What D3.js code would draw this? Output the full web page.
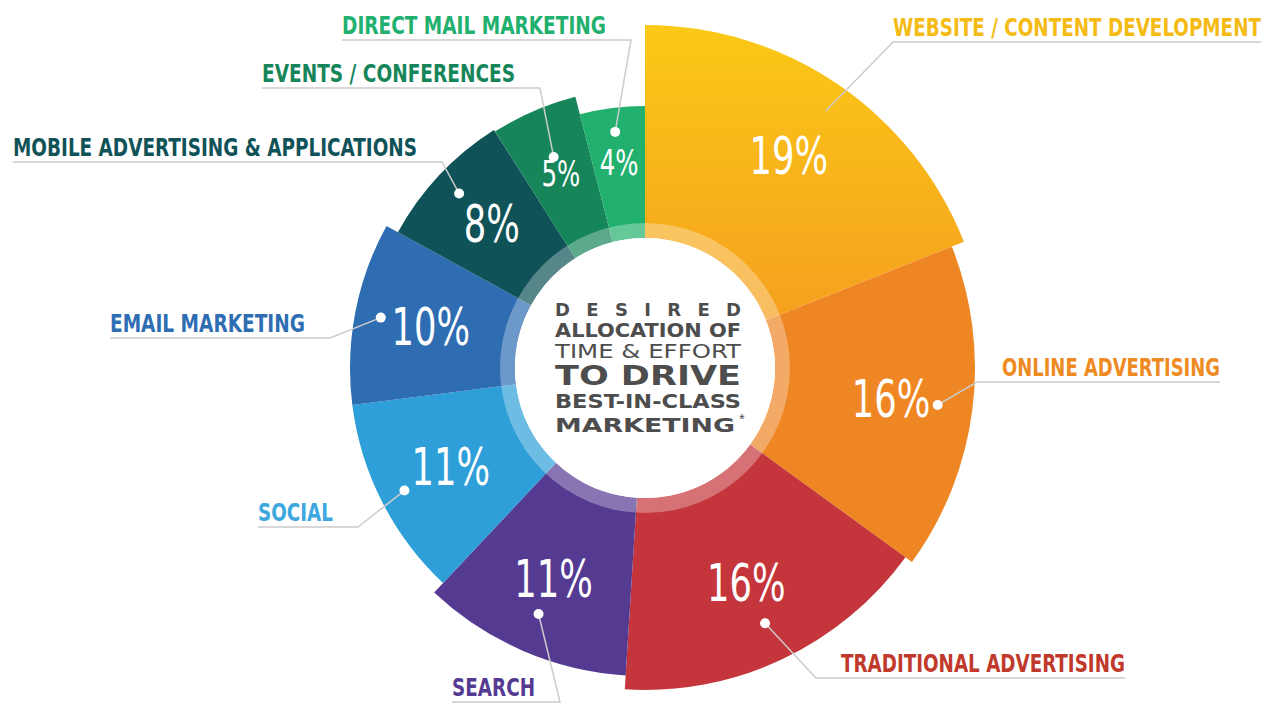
<!DOCTYPE html>
<html><head><meta charset="utf-8">
<script src="https://cdn.jsdelivr.net/npm/d3@7"></script>
<style>body{margin:0;background:#fff}svg{display:block}</style>
</head><body><svg id="c" width="1280" height="720"></svg>
<script>
const categories=["WEBSITE / CONTENT DEVELOPMENT","ONLINE ADVERTISING","TRADITIONAL ADVERTISING","SEARCH","SOCIAL","EMAIL MARKETING","MOBILE ADVERTISING & APPLICATIONS","EVENTS / CONFERENCES","DIRECT MAIL MARKETING"];
const values=[19,16,16,11,11,10,8,5,4];
const outerR=[343,330,322,308,295,295,282,280,262];
const colors=["#f8b61c","#ee8624","#c4363b","#553a92","#2e9fd8","#2f6db3","#0f5258","#16855a","#22b06e"];
const labelColors=["#f5bb14","#ee8a22","#c0392b","#553a92","#3da7de","#2f6db3","#0f5258","#16855a","#22b06e"];
const labelPos=[[893,36,368],[1002,376,218],[841,672,284],[452,696,83],[258,521,75],[110,332,195],[13,156,404],[262,82,253],[342,34,264]];
const dotR=[250,295,282,268,270,269,255,230,238];
const pctR=[256,248,238,230,218,218,210,212,207];
const svg=d3.select("#c");
const cx=645,cy=368,inner=130;
const pie=d3.pie().sort(null).value(d=>d)(values);
const g=svg.append("g").attr("transform",`translate(${cx},${cy})`);
const defs=svg.append("defs");
const gr=defs.append("linearGradient").attr("id","gw").attr("x1",0).attr("y1",0).attr("x2",0).attr("y2",1);
gr.append("stop").attr("offset","0%").attr("stop-color","#fbc916");
gr.append("stop").attr("offset","100%").attr("stop-color","#f5a01f");
pie.forEach((p,i)=>{
  const a=d3.arc().innerRadius(inner).outerRadius(outerR[i]);
  g.append("path").attr("d",a(p)).attr("fill",i==0?"url(#gw)":colors[i]);
});
g.append("circle").attr("r",145).attr("fill","#fff").attr("opacity",0.3);
g.append("circle").attr("r",inner).attr("fill","#fff");
const font="'Liberation Sans Narrow','DejaVu Sans Condensed',sans-serif";
pie.forEach((p,i)=>{
  const m=(p.startAngle+p.endAngle)/2;
  const pr=pctR[i], big=values[i]>=8;
  const px=Math.sin(m)*pr, py=-Math.cos(m)*pr;
  g.append("text").attr("transform",`translate(${px},${py}) scale(0.68,1)`)
   .attr("text-anchor","middle").attr("dominant-baseline","central")
   .attr("font-family","'DejaVu Sans',sans-serif").attr("font-size",big?52:36).attr("fill","#fff").text(values[i]+"%");
  const dx=cx+Math.sin(m)*dotR[i], dy=cy-Math.cos(m)*dotR[i];
  const [lx,ly,lw]=labelPos[i];
  const leftSide=lx<cx;
  const ex=leftSide?lx+lw:lx, ey=ly+6;
  if(i==0){
    svg.append("path").attr("d",`M${dx+40},${dy-50}L${ex},${ey}L${ex+lw},${ey}`).attr("stroke","#ccc").attr("stroke-width",1.5).attr("fill","none");
  } else {
    svg.append("path").attr("d",`M${dx},${dy}L${ex+(leftSide?25:-25)},${ey}L${leftSide?lx:lx+lw},${ey}`).attr("stroke","#ccc").attr("stroke-width",1.5).attr("fill","none");
    svg.append("circle").attr("cx",dx).attr("cy",dy).attr("r",5).attr("fill","#fff");
  }
  svg.append("text").attr("x",lx).attr("y",ly).attr("font-family",font).attr("font-weight","bold")
   .attr("font-size",25).attr("fill",labelColors[i]).attr("textLength",lw).attr("lengthAdjust","spacingAndGlyphs").text(categories[i]);
});
const center=[["DESIRED",316,18,"bold",186],["ALLOCATION OF",337,20,"bold",186],["TIME & EFFORT",358,20,"normal",186],["TO DRIVE",385,27,"900",186],["BEST-IN-CLASS",408,20,"bold",186],["MARKETING",432,20,"bold",180]];
center.forEach(([t,y,s,w,l])=>{
  svg.append("text").attr("x",555).attr("y",y).attr("font-family","'DejaVu Sans',sans-serif").attr("font-weight",w)
   .attr("font-size",s).attr("fill","#4d4d4d").attr("textLength",l).attr("lengthAdjust",t=="DESIRED"?"spacing":"spacingAndGlyphs").text(t);
});
svg.append("text").attr("x",739).attr("y",424).attr("font-family","sans-serif").attr("font-size",15).attr("fill","#4d4d4d").text("*");
</script></body></html>
